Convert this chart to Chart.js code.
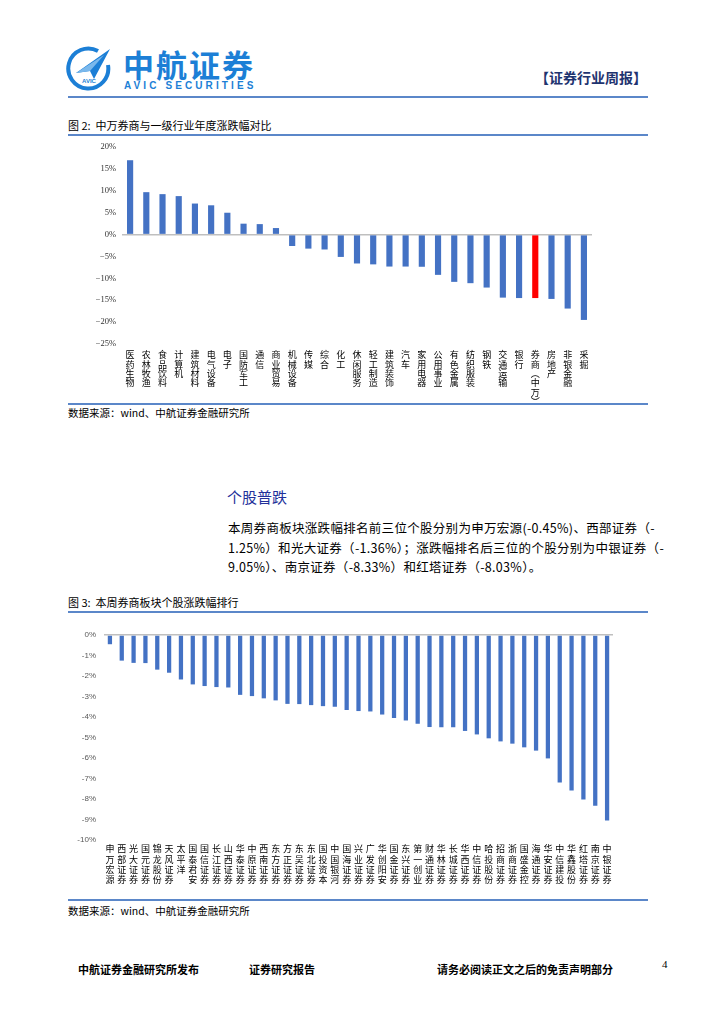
<!DOCTYPE html>
<html><head><meta charset="utf-8">
<script src="https://cdn.jsdelivr.net/npm/chart.js@4/dist/chart.umd.min.js"></script>
<style>
html,body{margin:0;padding:0;background:#fff;}
body{width:724px;height:1024px;position:relative;overflow:hidden;font-family:"Noto Sans CJK SC","Liberation Sans",sans-serif;color:#000;}
.abs{position:absolute;white-space:nowrap;}
.rule{position:absolute;left:68px;width:580px;height:2px;background:#5b87c9;}
.ftitle{font-size:11px;left:68px;}
.src{font-size:10.5px;left:68px;}
.para{font-size:12.5px;left:228px;letter-spacing:0.3px;}
.foot{font-size:11px;font-weight:bold;top:961px;}
</style></head>
<body>
<svg class="abs" style="left:64px;top:45px" width="50" height="48" viewBox="0 0 50 48">
  <path d="M34 6 A20 20 0 1 0 44 20" fill="none" stroke="#1c7fd6" stroke-width="4"/>
  <polygon points="12,28 46,4 30,34 26,26" fill="#1c7fd6"/>
  <polygon points="12,28 40,10 26,26" fill="#7ab8ec"/>
  <text x="18" y="38" font-size="6" font-weight="bold" fill="#1c7fd6" font-family="Liberation Sans">AVIC</text>
</svg>
<div class="abs" style="left:123px;top:46px;font-size:31px;font-weight:bold;color:#1c7fd6;letter-spacing:2px;line-height:36px;">中航证券</div>
<div class="abs" style="left:124px;top:80px;font-size:10px;font-weight:bold;color:#1c7fd6;letter-spacing:3.1px;font-family:'Liberation Sans';">AVIC SECURITIES</div>
<div class="abs" style="left:535px;top:67px;font-size:14px;font-weight:bold;color:#1f3470;">【证券行业周报】</div>
<div class="rule" style="top:96px;"></div>

<div class="abs ftitle" style="top:117px;">图 2:&nbsp; 中万券商与一级行业年度涨跌幅对比</div>
<div class="rule" style="top:134px;"></div>
<div class="rule" style="top:403px;"></div>
<div class="abs src" style="top:405px;">数据来源：wind、中航证券金融研究所</div>
<div class="abs" style="left:60px;top:136px;width:600px;height:266px;"><canvas id="c1"></canvas></div>

<div class="abs" style="left:227px;top:486px;font-size:15px;color:#22309a;">个股普跌</div>
<div class="abs para" style="top:518px;">本周券商板块涨跌幅排名前三位个股分别为申万宏源(-0.45%)、西部证券（-</div>
<div class="abs para" style="top:538px;">1.25%）和光大证券（-1.36%）；涨跌幅排名后三位的个股分别为中银证券（-</div>
<div class="abs para" style="top:557px;">9.05%）、南京证券（-8.33%）和红塔证券（-8.03%）。</div>

<div class="abs ftitle" style="top:594px;">图 3:&nbsp; 本周券商板块个股涨跌幅排行</div>
<div class="rule" style="top:611px;"></div>
<div class="abs" style="left:60px;top:620px;width:600px;height:278px;"><canvas id="c2"></canvas></div>
<div class="rule" style="top:899px;"></div>
<div class="abs src" style="top:903px;">数据来源：wind、中航证券金融研究所</div>

<div class="abs foot" style="left:78px;">中航证券金融研究所发布</div>
<div class="abs foot" style="left:249px;">证券研究报告</div>
<div class="abs foot" style="left:437px;">请务必阅读正文之后的免责声明部分</div>
<div class="abs" style="left:662px;top:958px;font-size:11px;font-family:'Liberation Serif';">4</div>

<script>
const industries = ["医药生物","农林牧渔","食品饮料","计算机","建筑材料","电气设备","电子","国防军工","通信","商业贸易","机械设备","传媒","综合","化工","休闲服务","轻工制造","建筑装饰","汽车","家用电器","公用事业","有色金属","纺织服装","钢铁","交通运输","银行","券商︵中万︶","房地产","非银金融","采掘"];
const industryChange = [17.0,9.7,9.25,8.8,7.1,6.7,5.0,2.5,2.4,1.5,-2.6,-3.2,-3.4,-5.1,-6.6,-6.8,-7.3,-7.3,-7.35,-9.2,-10.8,-11.1,-12.1,-14.4,-14.5,-14.5,-14.7,-16.9,-19.5];
const highlightIndustry = "券商︵中万︶";
const industryTicks = [20,15,10,5,0,-5,-10,-15,-20,-25];

const stocks = ["申万宏源","西部证券","光大证券","国元证券","锦龙股份","天风证券","太平洋","国泰君安","国信证券","长江证券","山西证券","华泰证券","中原证券","西南证券","东方证券","方正证券","东吴证券","东北证券","国投资本","中国银河","国海证券","兴业证券","广发证券","华创阳安","国金证券","东兴证券","第一创业","财通证券","华林证券","长城证券","华西证券","中信证券","哈投股份","招商证券","浙商证券","国盛金控","海通证券","华安证券","中信建投","华鑫股份","红塔证券","南京证券","中银证券"];
const stockChange = [-0.45,-1.25,-1.36,-1.37,-1.69,-1.84,-2.17,-2.41,-2.49,-2.54,-2.56,-2.92,-2.98,-3.09,-3.19,-3.36,-3.37,-3.42,-3.47,-3.50,-3.66,-3.71,-3.73,-3.88,-4.05,-4.17,-4.33,-4.49,-4.50,-4.50,-4.68,-4.85,-5.04,-5.19,-5.30,-5.48,-5.64,-6.02,-7.20,-7.58,-8.03,-8.33,-9.05];
const stockTicks = [0,-1,-2,-3,-4,-5,-6,-7,-8,-9,-10];

const BLUE = "#4472C4", RED = "#FF0000", ZERO = "#BFBFBF";
const vert = s => Array.from(s);

new Chart(document.getElementById("c1"), {
  type: "bar",
  data: {
    labels: industries.map(vert),
    datasets: [{
      data: industryChange,
      backgroundColor: industries.map(n => n === highlightIndustry ? RED : BLUE),
      barPercentage: 0.38, categoryPercentage: 1
    }]
  },
  options: {
    responsive: true, maintainAspectRatio: false, animation: false,
    layout: { padding: { top: 10, right: 68, left: 0, bottom: 0 } },
    plugins: { legend: { display: false }, tooltip: { enabled: false } },
    scales: {
      x: {
        grid: { display: false, drawTicks: false }, border: { display: false },
        ticks: { autoSkip: false, maxRotation: 0, minRotation: 0, padding: 6, color: "#000",
          font: { family: "Noto Sans CJK SC", size: 9, lineHeight: 1.05 } },
        afterFit: s => { s.height = 58; }
      },
      y: {
        min: -25, max: 20,
        afterBuildTicks: s => { s.ticks = industryTicks.map(v => ({ value: v })); },
        grid: { drawTicks: false, lineWidth: 1.5, color: c => c.tick && c.tick.value === 0 ? ZERO : "rgba(0,0,0,0)" },
        border: { display: false },
        ticks: { padding: 6, color: "#333", font: { family: "Liberation Serif", size: 8.5 },
          callback: v => (v < 0 ? "−" + Math.abs(v) : v) + "%" },
        afterFit: s => { s.width = 62; }
      }
    }
  }
});

new Chart(document.getElementById("c2"), {
  type: "bar",
  data: {
    labels: stocks.map(vert),
    datasets: [{ data: stockChange, backgroundColor: BLUE, barPercentage: 0.36, categoryPercentage: 1 }]
  },
  options: {
    responsive: true, maintainAspectRatio: false, animation: false,
    layout: { padding: { top: 15, right: 47, left: 0, bottom: 0 } },
    plugins: { legend: { display: false }, tooltip: { enabled: false } },
    scales: {
      x: {
        grid: { display: false, drawTicks: false }, border: { display: false },
        ticks: { autoSkip: false, maxRotation: 0, minRotation: 0, padding: 4, color: "#000",
          font: { family: "Noto Sans CJK SC", size: 9, lineHeight: 1.12 } },
        afterFit: s => { s.height = 58; }
      },
      y: {
        min: -10, max: 0,
        afterBuildTicks: s => { s.ticks = stockTicks.map(v => ({ value: v })); },
        grid: { drawTicks: false, lineWidth: 1.5, color: c => c.tick && c.tick.value === 0 ? ZERO : "rgba(0,0,0,0)" },
        border: { display: false },
        ticks: { padding: 8, color: "#595959", font: { family: "Liberation Sans", size: 8 },
          callback: v => v + "%" },
        afterFit: s => { s.width = 44; }
      }
    }
  }
});
</script>
</body></html>
